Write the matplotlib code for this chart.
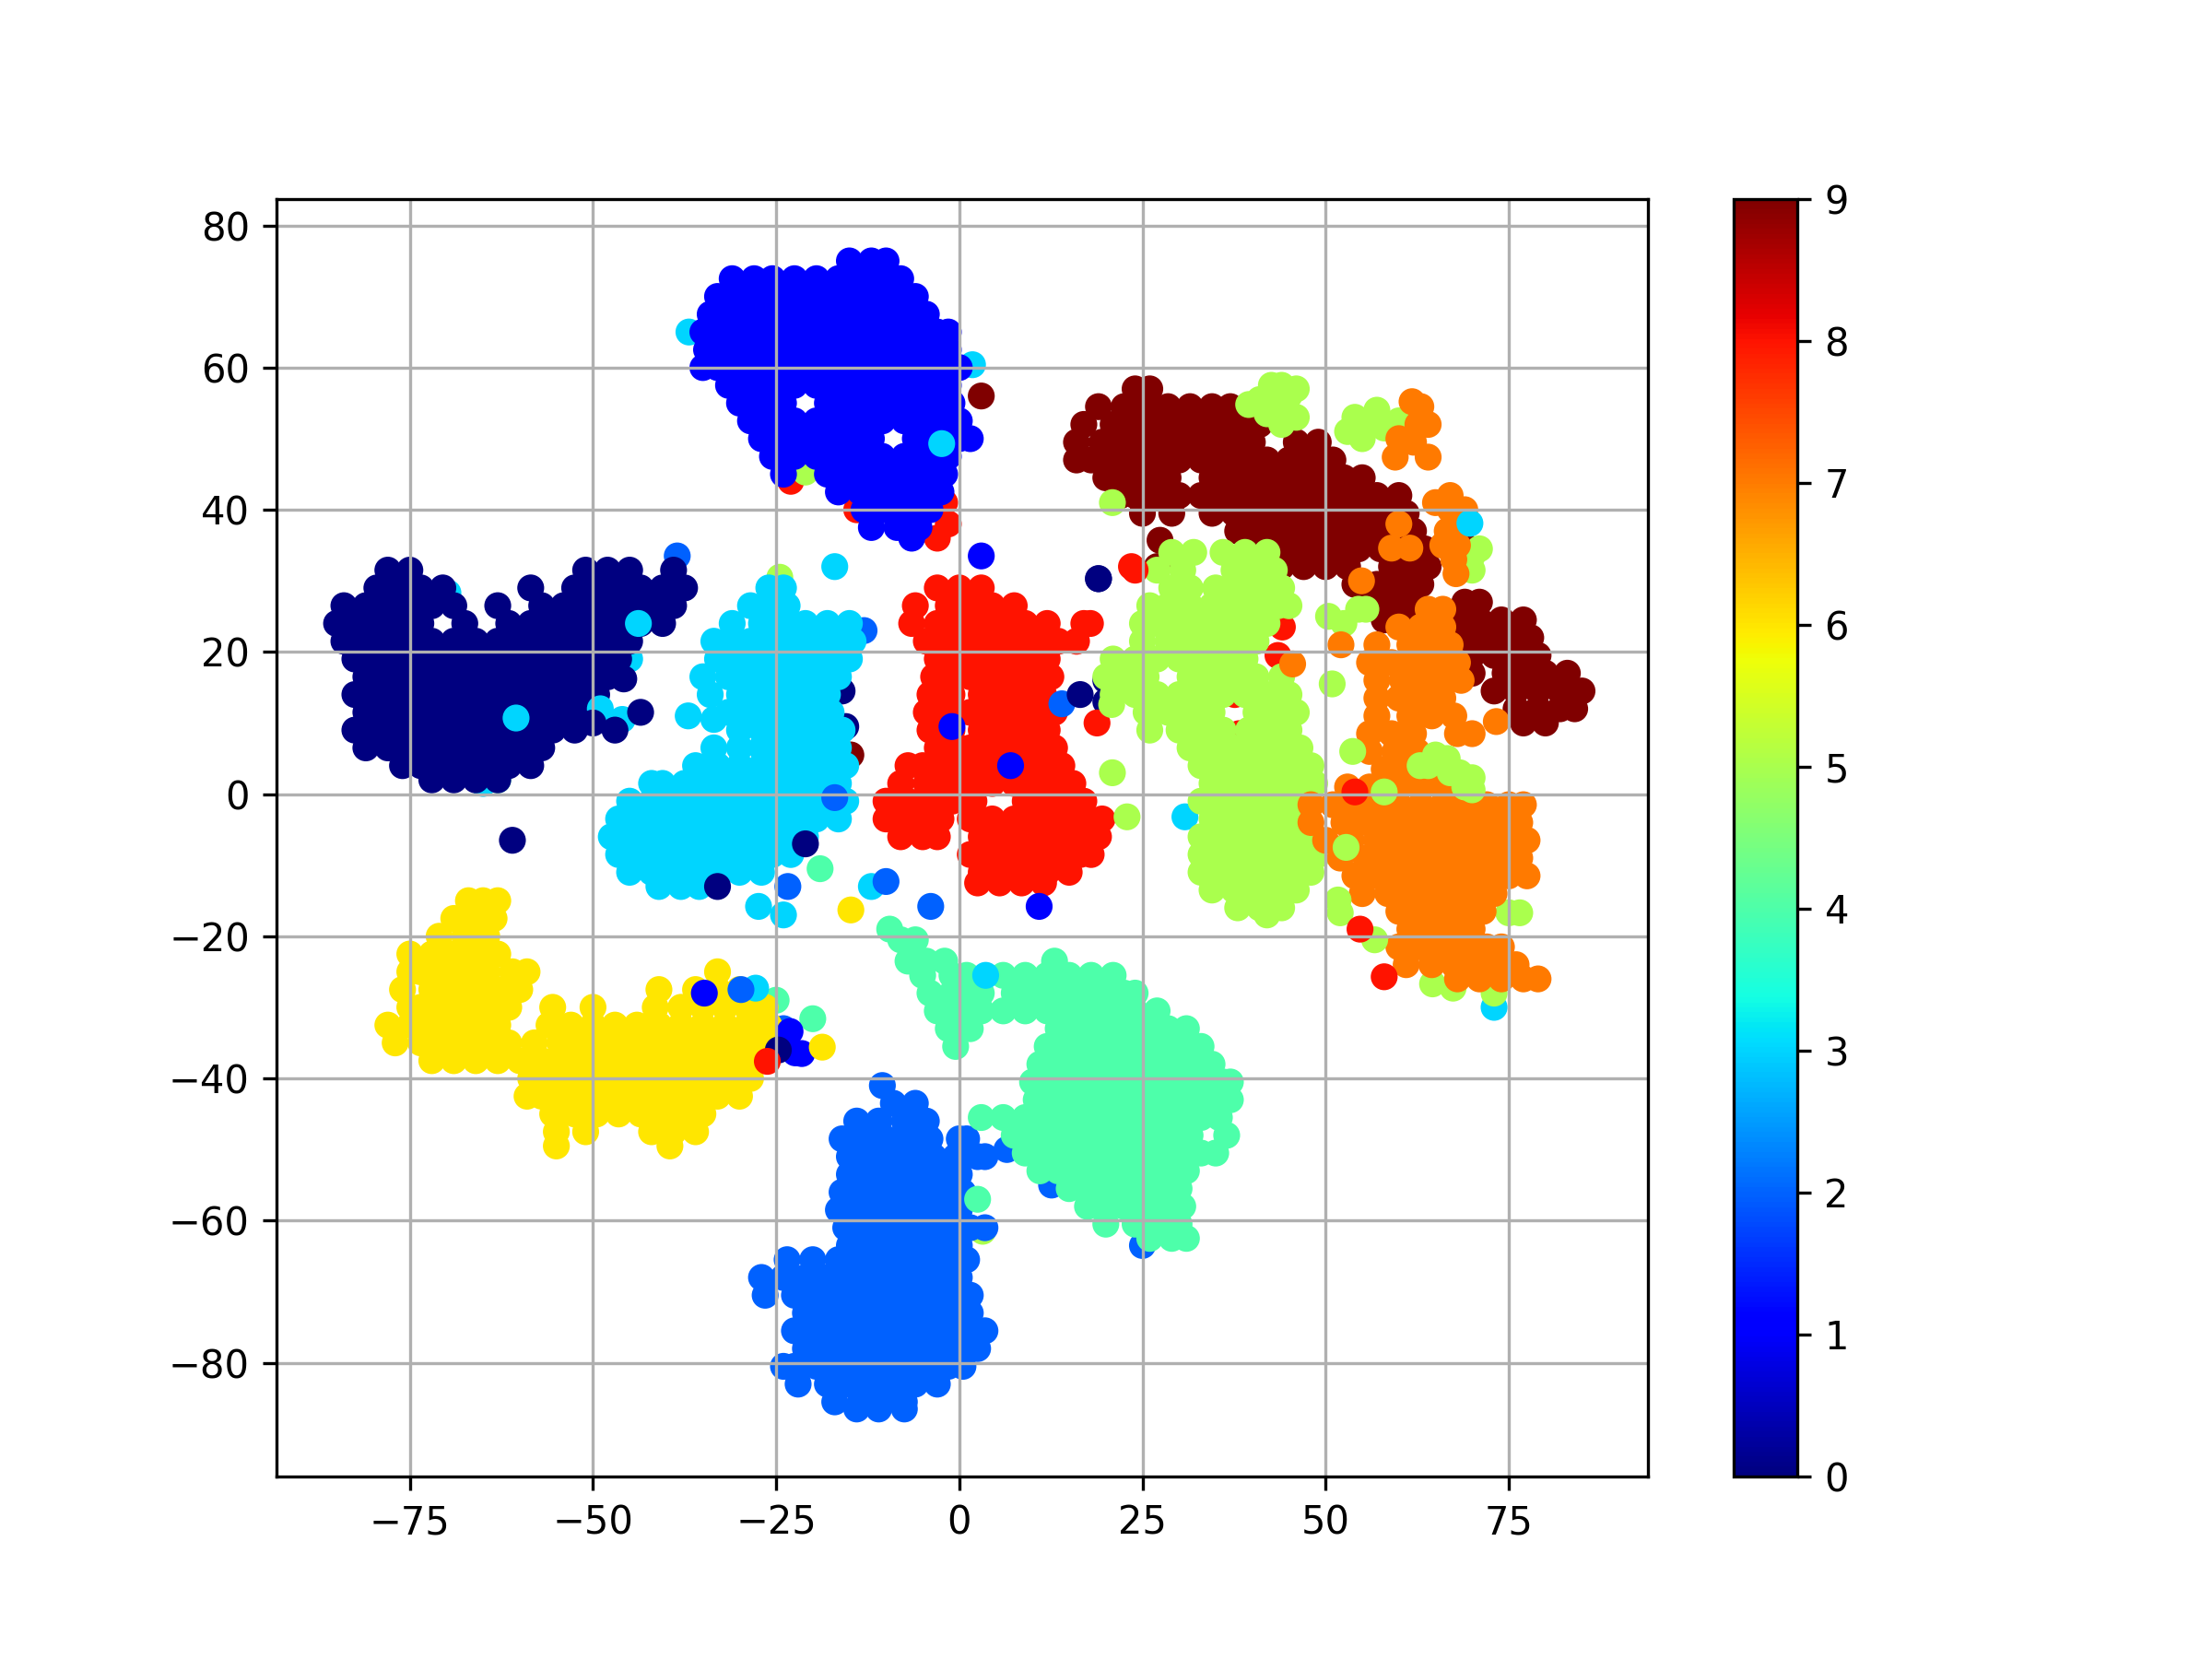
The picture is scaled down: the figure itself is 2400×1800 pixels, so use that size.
import numpy as np
import matplotlib
matplotlib.use("Agg")
import matplotlib.pyplot as plt

# points, one (y, [x, ...]) entry per row of each cluster
class0_rows = [
    (31.5, [-78, -75, -51, -48, -45, -39]),
    (29, [-79.5, -76.5, -73.5, -70.5, -58.5, -52.5, -49.5, -46.5, -43.5, -40.5, -37.5]),
    (26.5, [-84, -81, -78, -75, -72, -69, -63, -57, -54, -51, -48, -45, -42, -39]),
    (24, [-85, -82.5, -79.5, -76.5, -73.5, -67.5, -61.5, -58.5, -55.5, -52.5, -49.5, -46.5, -43.5, -40.5]),
    (21.5, [-84, -81, -78, -75, -72, -69, -66, -63, -60, -57, -54, -51, -48, -45]),
    (19, [-82.5, -79.5, -76.5, -73.5, -70.5, -67.5, -64.5, -61.5, -58.5, -55.5, -52.5, -49.5, -46.5]),
    (16.5, [-81, -78, -75, -72, -69, -66, -63, -60, -57, -54, -51, -48]),
    (14, [-82.5, -79.5, -76.5, -73.5, -70.5, -67.5, -64.5, -61.5, -58.5, -55.5, -52.5, -49.5]),
    (11.5, [-81, -78, -75, -72, -69, -66, -63, -60, -57, -54, -51]),
    (9, [-82.5, -79.5, -76.5, -73.5, -70.5, -67.5, -64.5, -61.5, -58.5, -55.5, -52.5]),
    (6.5, [-81, -78, -75, -72, -69, -66, -63, -60, -57]),
    (4, [-76, -73.5, -70.5, -67.5, -64.5, -61.5, -58.5]),
    (2, [-72, -69, -66, -63]),
]
class1_rows = [
    (75, [-15, -12, -10]),
    (72.5, [-31, -28, -25.5, -22.5, -19.5, -16.5, -13.5, -10.5, -8]),
    (70, [-33, -30, -27, -24, -21, -18, -15, -12, -9, -6]),
    (67.5, [-34, -31.5, -28.5, -25.5, -22.5, -19.5, -16.5, -13.5, -10.5, -7.5, -4.5]),
    (65, [-35, -33, -30, -27, -24, -21, -18, -15, -12, -9, -6, -3, -1.5]),
    (62.5, [-34.5, -31.5, -28.5, -25.5, -22.5, -19.5, -16.5, -13.5, -10.5, -7.5, -4.5, -1.5]),
    (60, [-35, -33, -30, -27, -24, -21, -18, -15, -12, -9, -6, -3, 0]),
    (57.5, [-31.5, -28.5, -25.5, -22.5, -19.5, -16.5, -13.5, -10.5, -7.5, -4.5, -1.5]),
    (55, [-30, -27, -24, -18, -15, -12, -9, -6, -3, -1]),
    (52.5, [-28.5, -25.5, -22.5, -19.5, -16.5, -13.5, -10.5, -7.5, -4.5, -1.5, 0]),
    (50, [-27, -24, -21, -18, -15, -12, -6, -3, 0, 1.5]),
    (47.5, [-25.5, -22.5, -19.5, -16.5, -13.5, -10.5, -7.5, -4.5, -1.5]),
    (45, [-24, -18, -15, -12, -9, -6, -3, -2]),
    (42.5, [-16.5, -13.5, -10.5, -7.5, -4.5, -2.5]),
    (40, [-13, -10, -7, -4]),
    (37.5, [-12, -8.5, -5.5]),
    (36, [-6.5]),
]
class2_rows = [
    (-41, [-10.5]),
    (-43.5, [-9, -6]),
    (-46, [-14, -11, -7.5, -4.5]),
    (-48.5, [-16, -13, -10, -7, -4, 0, 1]),
    (-51, [-15, -12.5, -9.5, -6.5, -3.5, -0.5, 2.5, 3.5]),
    (-53.5, [-15, -12, -9, -6, -3, 0]),
    (-56, [-16, -13.5, -10.5, -7.5, -4.5, -1.5, 0.5]),
    (-58.5, [-16.5, -15, -12, -9, -6, -3, 0]),
    (-61, [-15.5, -13.5, -10.5, -7.5, -4.5, -1.5, 1.5, 3.5]),
    (-63.5, [-15, -12, -9, -6, -3, 0]),
    (-65.5, [-23.5, -20, -16.5, -13.5, -10.5, -7.5, -4.5, -1.5, 1]),
    (-68, [-27, -24, -21, -18, -15, -12, -9, -6, -3, 0]),
    (-70.5, [-26.5, -22.5, -19.5, -16.5, -13.5, -10.5, -7.5, -4.5, -1.5, 1.5]),
    (-73, [-21, -18, -15, -12, -9, -6, -3, 0, 1.5]),
    (-75.5, [-22.5, -19.5, -16.5, -13.5, -10.5, -7.5, -4.5, -1.5, 1.5, 3.5]),
    (-78, [-21, -18, -15, -12, -9, -6, -3, 0, 2.5]),
    (-80.5, [-24, -22.5, -19.5, -16.5, -13.5, -10.5, -7.5, -4.5, -1.5, 0.5]),
    (-83, [-22, -18, -15, -12, -9, -6, -3]),
    (-85.5, [-17, -13.5, -10.5, -7.5]),
    (-86.5, [-14, -11, -7.5]),
]
class3_rows = [
    (29, [-26, -24]),
    (26.5, [-28.5, -25.5, -23.5]),
    (24, [-31, -27, -24, -21, -18, -15]),
    (21.5, [-33.5, -31.5, -28.5, -25.5, -22.5, -19.5, -16.5, -14.5]),
    (19, [-33, -30, -27, -24, -21, -18, -15]),
    (16.5, [-35, -31.5, -28.5, -25.5, -22.5, -19.5, -16.5]),
    (14, [-34, -30, -27, -24, -21, -18]),
    (11.5, [-31.5, -28.5, -25.5, -22.5, -19.5, -17.5]),
    (9, [-30, -27, -24, -21, -18, -16]),
    (6.5, [-33.5, -30, -27, -25.5, -22.5, -19.5, -16.5]),
    (4, [-36, -33, -30, -27, -24, -21, -18, -15.5]),
    (1.5, [-42, -40.5, -37.5, -34.5, -31.5, -28.5, -25.5, -22.5, -19.5, -16.5]),
    (-1, [-45, -42, -39, -36, -33, -30, -27, -24, -21, -18, -15.5]),
    (-3.5, [-46.5, -43.5, -40.5, -37.5, -34.5, -31.5, -28.5, -25.5, -22.5, -19.5, -16.5]),
    (-6, [-47.5, -45, -42, -39, -36, -33, -30, -27, -24, -21]),
    (-8.5, [-46.5, -43.5, -40.5, -37.5, -34.5, -31.5, -28.5, -25.5, -23]),
    (-11, [-45, -42, -39, -36, -33, -30, -27]),
    (-13, [-41, -38, -35.5]),
]
class4_rows = [
    (-19, [-9.5]),
    (-20.5, [-6, -8]),
    (-23.5, [-7, -4.5, -2, 13]),
    (-25.5, [-5, -1, 1, 6, 9, 12, 15, 18, 21]),
    (-28, [-4, -1, 1, 3, 7.5, 10.5, 13.5, 16.5, 19.5, 22.5, 24]),
    (-30.5, [-3, 0, 3, 6, 9, 12, 15, 18, 21, 24, 27]),
    (-33, [-1.5, 1.5, 13.5, 16.5, 19.5, 22.5, 25.5, 28.5, 31]),
    (-35.5, [-0.5, 12, 15, 18, 21, 24, 27, 30, 33]),
    (-38, [11, 13.5, 16.5, 19.5, 22.5, 25.5, 28.5, 31.5, 34.5]),
    (-40.5, [10, 12, 15, 18, 21, 24, 27, 30, 33, 36, 37]),
    (-43, [10.5, 13.5, 16.5, 19.5, 22.5, 25.5, 28.5, 31.5, 34.5, 37]),
    (-45.5, [3, 6, 9, 12, 15, 18, 21, 24, 27, 30, 33, 35.5]),
    (-48, [7.5, 10.5, 13.5, 16.5, 19.5, 22.5, 25.5, 28.5, 31.5, 36.5]),
    (-50.5, [9, 12, 15, 18, 21, 24, 27, 30, 33, 35]),
    (-53, [11, 13.5, 16.5, 19.5, 22.5, 25.5, 28.5, 31]),
    (-55.5, [15, 18, 21, 24, 27, 30]),
    (-58, [17.5, 19.5, 22.5, 25.5, 28.5, 30.5]),
    (-60.5, [20, 24, 27, 30]),
    (-62.5, [26, 29, 31]),
]
class5_rows = [
    (34, [29, 32, 36, 39, 42]),
    (31.5, [27, 30.5, 37.5, 40.5, 43]),
    (29, [29, 31.5, 35, 38, 41, 44]),
    (26.5, [26, 28.5, 31.5, 34.5, 37.5, 40.5, 43.5, 45]),
    (24, [25, 27, 30, 33, 36, 39, 42]),
    (21.5, [25, 28.5, 31.5, 34.5, 37.5, 40.5]),
    (19, [21, 24, 27, 30, 33, 36, 39]),
    (16.5, [20, 22.5, 25.5, 31.5, 34.5, 37.5, 40.5, 44]),
    (14, [21, 24, 27, 30, 33, 36, 39, 42, 45]),
    (11.5, [25.5, 28.5, 31.5, 34.5, 40.5, 43.5, 46]),
    (9, [26, 30, 33, 36, 39.5, 42, 45]),
    (6.5, [31.5, 34.5, 37.5, 40.5, 43.5, 46.5]),
    (4, [33, 36, 39, 42, 45, 48]),
    (1.5, [34.5, 37.5, 40.5, 43.5, 46.5, 48.5]),
    (-1, [33, 36, 39, 42, 45, 47]),
    (-3.5, [34.5, 37.5, 40.5, 43.5, 46.5]),
    (-6, [33, 36, 39, 42, 45, 48]),
    (-8.5, [33, 34.5, 37.5, 40.5, 43.5, 46.5, 49]),
    (-11, [33, 36, 39, 42, 45, 48]),
    (-13.5, [34.5, 37.5, 40.5, 43.5, 46]),
    (-16, [38, 41, 44]),
    (-17, [42]),
]
class6_rows = [
    (-15, [-67, -65, -63]),
    (-17.5, [-69, -66, -63.5]),
    (-20, [-71, -67.5, -64.5]),
    (-22.5, [-75, -72, -69, -66, -63]),
    (-25, [-75, -73.5, -70.5, -67.5, -64.5, -61, -59, -33]),
    (-27.5, [-76, -72, -69, -66, -63, -60, -41, -36, -33, -30]),
    (-30, [-75, -73.5, -70.5, -67.5, -64.5, -61.5, -55.5, -50, -41.5, -38, -35, -32, -29, -26.5]),
    (-32.5, [-78, -75, -72, -69, -66, -63, -56, -53, -50, -47, -44, -41, -38, -35, -32, -29, -26]),
    (-35, [-77, -73.5, -70.5, -67.5, -64.5, -61.5, -58, -54.5, -51.5, -48.5, -45.5, -42.5, -39.5, -36.5, -33.5, -30.5, -27.5, -25]),
    (-37.5, [-72, -69, -66, -63, -60, -57, -54, -51, -48, -45, -42, -39, -36, -33, -30, -27]),
    (-40, [-58.5, -55.5, -52.5, -49.5, -46.5, -43.5, -40.5, -37.5, -34.5, -31.5, -28.5]),
    (-42.5, [-59, -57, -54, -51, -48, -45, -42, -39, -36, -33, -30]),
    (-45, [-55.5, -52.5, -49.5, -46.5, -43.5, -40.5, -37.5, -35]),
    (-47.5, [-55, -51, -42, -39, -36]),
    (-49.5, [-55, -39.5]),
]
class7_rows = [
    (26, [64, 66]),
    (23.5, [60, 63, 66]),
    (21, [57, 61.5, 64.5, 67]),
    (18.5, [56, 59, 62, 65, 68]),
    (16, [57, 60.5, 63.5, 66.5, 68.5]),
    (13.5, [57, 60, 63, 66]),
    (11, [57, 61.5, 64.5, 67.5]),
    (8.5, [56, 59, 62, 68, 70]),
    (6, [56, 59.5, 62.5]),
    (3.5, [58, 61, 64]),
    (1, [53, 56, 60, 63, 66, 68]),
    (-1.5, [48, 51, 54, 57, 60, 63, 66, 69, 72, 75, 77]),
    (-4, [48, 52.5, 55.5, 58.5, 61.5, 64.5, 67.5, 70.5, 73.5, 76.5]),
    (-6.5, [50, 53.5, 57, 60, 63, 66, 69, 72, 75, 77.5]),
    (-9, [52, 55.5, 58.5, 61.5, 64.5, 67.5, 70.5, 73.5, 76.5]),
    (-11.5, [54, 57, 60, 63, 66, 69, 72, 75, 77.5]),
    (-14, [55, 58.5, 61.5, 64.5, 67.5, 70.5, 73]),
    (-16.5, [60, 63, 66, 69, 71.5]),
    (-19, [61.5, 64.5, 67.5, 70]),
    (-21.5, [60, 63, 66, 69, 72, 74]),
    (-24, [61, 64.5, 67.5, 70.5, 73.5, 76]),
    (-26, [68, 71, 74, 77, 79]),
]
class8_rows = [
    (29, [-3, 0, 3]),
    (26.5, [-6, -1.5, 1.5, 4.5, 7.5]),
    (24, [-6.5, -3, 0, 3, 6, 9, 12, 17]),
    (21.5, [-4.5, -1.5, 1.5, 4.5, 7.5, 10.5, 13.5, 16]),
    (19, [-3, 0, 3, 6, 9, 12]),
    (16.5, [-3.5, -1.5, 1.5, 4.5, 7.5, 10.5, 12.5]),
    (14, [-4, -1, 3, 6, 9, 11.5]),
    (11.5, [-4.5, -1.5, 1.5, 4.5, 7.5, 10.5, 13]),
    (9, [-4, -1, 3, 6, 9, 12]),
    (6.5, [-3, 0, 1.5, 4.5, 7.5, 10.5, 13]),
    (4, [-7, -5, -2, 0, 3, 6, 9, 12, 14]),
    (1.5, [-8, -4.5, -1.5, 1.5, 4.5, 7.5, 10.5, 13.5, 15.5]),
    (-1, [-10, -7, -4, -1, 2, 9, 12, 15, 17]),
    (-3.5, [-10, -8.5, -5.5, -2.5, 1.5, 4.5, 7.5, 10.5, 13.5, 16.5, 19.5]),
    (-6, [-8, -5, -3, 3, 6, 9, 12, 15, 18, 19]),
    (-8.5, [1.5, 4.5, 7.5, 10.5, 13.5, 16.5, 18]),
    (-11, [3, 6, 9, 12, 15]),
    (-12.5, [2.5, 5.5, 8.5, 11.5]),
]
class9_rows = [
    (57, [24, 26]),
    (54.5, [19, 22.5, 25.5, 28.5, 31.5, 34.5, 37]),
    (52, [17, 21, 24, 27, 30, 33, 36, 39, 41]),
    (49.5, [16, 19.5, 22.5, 25.5, 28.5, 31.5, 34.5, 37.5, 40, 46, 49]),
    (47, [16, 18, 21, 24, 27, 30, 33, 36, 39, 42, 45, 48, 51]),
    (44.5, [20, 22.5, 25.5, 28.5, 34.5, 37.5, 40.5, 43.5, 46.5, 49.5, 52.5, 55]),
    (42, [22, 24, 27, 30, 33, 36, 39, 42, 45, 48, 51, 54, 57, 60]),
    (39.5, [25, 29, 34.5, 37.5, 40.5, 43.5, 46.5, 49.5, 52.5, 55.5, 58.5, 61]),
    (37, [38, 41, 44, 47, 50, 53, 56, 59, 62]),
    (34.5, [40, 42.5, 45.5, 48.5, 51.5, 54.5, 57.5, 60.5, 63.5]),
    (32, [41, 44, 47, 50, 53, 59, 62, 64]),
    (29.5, [54, 57, 60, 63]),
    (27, [56, 59, 62, 69, 71]),
    (24.5, [58, 60.5, 68, 71, 74, 77]),
    (22, [69.5, 72.5, 75.5, 78]),
    (19.5, [70, 73, 76, 79]),
    (17, [70, 74.5, 77.5, 80, 83]),
    (14.5, [73, 76, 79, 82, 85]),
    (12, [76, 79, 82, 84]),
    (10, [77, 80]),
]

# strays drawn below the clusters
under_x = [-36.9, -32, 1.8, -2, -1.5, -3, -14, -23, -4, -9, -16.4, -21, -69.8, -63, -58, -65, -45, -45, -38.5,
           -24.5, -13, -14.8, -16, -15.5, -35.5, 20, 20, 27.4, 27, 72, 68.9, 30.8, 73, 75, 76.5, 64.6, 67.4, 73,
           -25, -30, -24, -20, 25, 12.6, 6.5, 3.2, 38.2, 41.3, 37.6, 44.1, 43.5, 18.8, 17.9, 23.5]
under_y = [65, 69.5, 60.4, 41, 38, 36, 40, 44, 55, 56, 45.3, 45.3, 28.3, 2, 6.5, 1.5, 23.8, 19, 33.5,
           30.5, 23, 5.5, 14.5, 9.5, -7.5, 16, 13, 35.7, 32, -2.2, 35, -3.2, -30, -16.7, -16.7, -26.7, -27.3, -28,
           -29, -28, -33, -31.6, -63.5, -55, -50, -61.5, 8.5, -8.8, 14, 23.5, 19.5, 10, 24, 32]
under_c = [3, 3, 3, 8, 8, 8, 8, 8, 8, 8, 5, 5, 3, 4, 4, 3, 3, 3, 2,
           5, 2, 9, 0, 0, 3, 0, 0, 9, 9, 9, 9, 3, 3, 5, 5, 5, 5, 5,
           4, 2, 2, 4, 2, 2, 2, 5, 8, 8, 8, 8, 8, 8, 8, 8]

# strays drawn on top
over_x = [3, -2.4, -60.5, -49, -46, -43.8, -50, -47, -43.5, -45.8, -37, -33.5, -17, -17, -27.4, -24, -23.4, -12,
          -10, -14.8, -3.9, 10.9, -33, -61, -21, -19, -1, 7, 14, 16.5, 19, 19, 24, 3.6,
          -34.8, -27.8, -29.8, -23.1, -22.4, -21.5, -24.7, -26.2, -18.7,
          2.5, 20.9, 42.6, 45, 46, 42, 39.5, 54, 57, 60, 55, 69, 71, 70, 50.4, 54.5, 55.5, 52.5, 50.9, 53.7,
          62.9, 66.6, 68.3, 70, 70, 58, 52.8, 51.7, 52, 56.7, 22.9, 20.9, 20.8,
          44, 43, 44, 41, 46, 56, 58, 53, 70, 65, 67, 69, 64,
          52.1, 45.5, 54.9, 73.3, 61.8, 62.6, 59.5, 64, 67, 65, 68.3, 66.6, 60, 59, 61.5, 67.5, 67.8,
          60, 62, 64, 63, 67, 69, 66, 68,
          54, 54.7, 58, 69.7, 3]
over_y = [56, 49.3, 10.7, 12, 10.5, 24, 10, 9, 11.5, 16.2, 11, 10.5, 32, -0.5, -15.8, -17, -13, -13,
          -12.3, -16.3, -15.8, -15.8, -13, -6.5, -7, -10.5, 9.5, 4, 12.7, 14, 30.3, 30.3, 31.5, -25.5,
          -28, -27.3, -27.5, -33.4, -36.4, -36.5, -36, -37.6, -35.6,
          -57, 41, 57.5, 56, 53, 53.5, 54.8, 53, 54, 52.5, 50, 33, 34.5, 31.5, 25, 26, 26, 24, 15.5, 6,
          4, 5, 3, 2.3, 0.6, 0.3, -7.5, -14.9, -16.7, -20.5, -3.2, 3, 12.6,
          57.5, 55, 52, 55.5, 57, 52, 51.5, 51, 33.5, 5.5, 3, 1, 4,
          21, 18.3, 30, 10.2, 55.2, 52, 47.4, 47.4, 42, 41, 38.6, 37, 38, 34.6, 34.6, 33, 31,
          50, 49.5, 52, 54.5, 40, 40, 35, 35,
          0.3, -19, -25.7, 38.1, 33.5]
over_c = [9, 3, 3, 3, 3, 3, 0, 0, 0, 0, 3, 3, 3, 2, 3, 3, 2, 3,
          2, 6, 2, 1, 0, 0, 0, 4, 1, 1, 2, 0, 0, 0, 8, 3,
          1, 3, 2, 1, 1, 1, 0, 8, 6,
          4, 5, 5, 5, 5, 5, 5, 5, 5, 5, 5, 5, 5, 5, 5, 5, 5, 5, 5, 5,
          5, 5, 5, 5, 5, 5, 5, 5, 5, 5, 5, 5, 5,
          5, 5, 5, 5, 5, 5, 5, 5, 5, 5, 5, 5, 5,
          7, 7, 7, 7, 7, 7, 7, 7, 7, 7, 7, 7, 7, 7, 7, 7, 7,
          7, 7, 7, 7, 7, 7, 7, 7,
          8, 8, 8, 3, 1]


def expand(rows, label):
    xs, ys = [], []
    for y, row in rows:
        xs += row
        ys += [y] * len(row)
    return xs, ys, [label] * len(xs)


x = list(under_x)
y = list(under_y)
c = list(under_c)
for rows, label in [(class0_rows, 0), (class1_rows, 1), (class2_rows, 2), (class3_rows, 3), (class4_rows, 4),
                    (class6_rows, 6), (class8_rows, 8), (class9_rows, 9), (class5_rows, 5), (class7_rows, 7)]:
    xs, ys, cs = expand(rows, label)
    x += xs
    y += ys
    c += cs
x += over_x
y += over_y
c += over_c

plt.figure(figsize=(8, 6), dpi=300)
plt.scatter(x, y, c=c, cmap="jet")
plt.colorbar()
plt.grid()
plt.xlim(-93.2, 94)
plt.ylim(-96, 83.7)
plt.xticks([-75, -50, -25, 0, 25, 50, 75])
plt.savefig("out.png", dpi=300)
